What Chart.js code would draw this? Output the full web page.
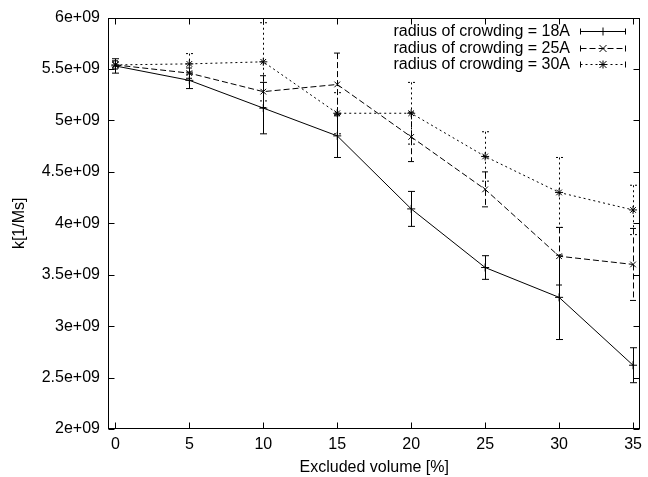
<!DOCTYPE html>
<html>
<head>
<meta charset="utf-8">
<script src="https://cdn.jsdelivr.net/npm/chart.js@4/dist/chart.umd.min.js"></script>
<style>
  body { margin: 0; background: #fff; }
  #c { display: block; }
</style>
</head>
<body>
<canvas id="c" width="648" height="477"></canvas>
<script>
// Excluded volume [%] on x, rate constant on y
const volumes = [0, 5, 10, 15, 20, 25, 30, 35];
const seriesNames = ["radius of crowding = 18A", "radius of crowding = 25A", "radius of crowding = 30A"];

const k18 = [5.53e9, 5.39e9, 5.12e9, 4.85e9, 4.14e9, 3.57e9, 3.28e9, 2.62e9];
const err18 = [0.07e9, 0.08e9, 0.25e9, 0.21e9, 0.17e9, 0.115e9, 0.41e9, 0.17e9];
const k25 = [5.54e9, 5.46e9, 5.28e9, 5.35e9, 4.84e9, 4.33e9, 3.68e9, 3.60e9];
const err25 = [0.04e9, 0.05e9, 0.155e9, 0.305e9, 0.24e9, 0.17e9, 0.28e9, 0.35e9];
const k30 = [5.54e9, 5.55e9, 5.57e9, 5.07e9, 5.07e9, 4.65e9, 4.30e9, 4.13e9];
const err30 = [0.03e9, 0.10e9, 0.38e9, 0.20e9, 0.30e9, 0.24e9, 0.34e9, 0.24e9];

const xTicks = [0, 5, 10, 15, 20, 25, 30, 35];
const yTicks = [2e9, 2.5e9, 3e9, 3.5e9, 4e9, 4.5e9, 5e9, 5.5e9, 6e9];

const FONT = "'Liberation Sans', Arial, sans-serif";
const dashes = [[], [6, 3], [2, 3]];
const markers = ["cross", "crossRot", "star"];
const errs = [err18, err25, err30];

function pts(ys) {
  return volumes.map((x, i) => ({ x: x, y: ys[i] }));
}

// gnuplot-like box, inward ticks, error bars and legend
const gnuplotLook = {
  id: "gnuplotLook",
  afterDatasetsDraw(chart) {
    const ctx = chart.ctx;
    const xs = chart.scales.x, ys = chart.scales.y;
    ctx.save();
    ctx.strokeStyle = "#000";
    ctx.lineWidth = 1;
    chart.data.datasets.forEach((ds, i) => {
      ctx.setLineDash(dashes[i]);
      ds.data.forEach((p, j) => {
        const px = Math.round(xs.getPixelForValue(p.x)) + 0.5;
        const top = ys.getPixelForValue(p.y + errs[i][j]);
        const bot = ys.getPixelForValue(p.y - errs[i][j]);
        ctx.beginPath();
        ctx.moveTo(px, top);
        ctx.lineTo(px, bot);
        ctx.moveTo(px - 3.5, top);
        ctx.lineTo(px + 3.5, top);
        ctx.moveTo(px - 3.5, bot);
        ctx.lineTo(px + 3.5, bot);
        ctx.stroke();
      });
    });
    ctx.restore();
  },
  afterDraw(chart) {
    const ctx = chart.ctx;
    const a = chart.chartArea;
    const xs = chart.scales.x, ys = chart.scales.y;
    ctx.save();
    ctx.strokeStyle = "#000";
    ctx.lineWidth = 1;
    ctx.setLineDash([]);
    const L = Math.round(a.left) + 0.5, R = Math.round(a.right) - 0.5;
    const T = Math.round(a.top) + 0.5, B = Math.round(a.bottom) - 0.5;
    ctx.strokeRect(L, T, R - L, B - T);
    ctx.beginPath();
    xTicks.forEach(v => {
      const px = Math.round(xs.getPixelForValue(v)) + 0.5;
      ctx.moveTo(px, B); ctx.lineTo(px, B - 6);
      ctx.moveTo(px, T); ctx.lineTo(px, T + 6);
    });
    yTicks.forEach(v => {
      const py = Math.round(ys.getPixelForValue(v)) + 0.5;
      ctx.moveTo(L, py); ctx.lineTo(L + 6, py);
      ctx.moveTo(R, py); ctx.lineTo(R - 6, py);
    });
    ctx.stroke();

    // legend: text right-aligned, sample on the right
    ctx.font = "16px " + FONT;
    ctx.fillStyle = "#000";
    ctx.textAlign = "right";
    ctx.textBaseline = "middle";
    const x0 = 580.5, x1 = 625.5;
    seriesNames.forEach((name, i) => {
      const y = Math.round(31 + i * 16.5) + 0.5;
      ctx.fillText(name, 570, y);
      ctx.setLineDash(dashes[i]);
      ctx.beginPath();
      ctx.moveTo(x0, y); ctx.lineTo(x1, y);
      ctx.stroke();
      ctx.setLineDash([]);
      ctx.beginPath();
      ctx.moveTo(x0, y - 3); ctx.lineTo(x0, y + 3);
      ctx.moveTo(x1, y - 3); ctx.lineTo(x1, y + 3);
      ctx.stroke();
      const mx = (x0 + x1) / 2;
      ctx.beginPath();
      if (i === 0) {
        ctx.moveTo(mx, y - 4); ctx.lineTo(mx, y + 4);
      } else {
        ctx.moveTo(mx - 3.5, y - 3.5); ctx.lineTo(mx + 3.5, y + 3.5);
        ctx.moveTo(mx - 3.5, y + 3.5); ctx.lineTo(mx + 3.5, y - 3.5);
        if (i === 2) {
          ctx.moveTo(mx - 4, y); ctx.lineTo(mx + 4, y);
          ctx.moveTo(mx, y - 4); ctx.lineTo(mx, y + 4);
        }
      }
      ctx.stroke();
    });
    ctx.restore();
  }
};

new Chart(document.getElementById("c"), {
  type: "line",
  data: {
    datasets: [k18, k25, k30].map((ys, i) => ({
      label: seriesNames[i],
      data: pts(ys),
      borderColor: "#000",
      backgroundColor: "#000",
      borderWidth: 1,
      borderDash: dashes[i],
      pointStyle: markers[i],
      pointRadius: 4,
      pointBorderWidth: 1,
      pointBorderColor: "#000",
      tension: 0,
      fill: false
    }))
  },
  options: {
    responsive: false,
    animation: false,
    devicePixelRatio: 1,
    layout: { padding: { top: 16, right: 4, left: 0, bottom: 0 } },
    plugins: { legend: { display: false }, tooltip: { enabled: false } },
    scales: {
      x: {
        type: "linear",
        min: -0.5,
        max: 35.5,
        afterBuildTicks: s => { s.ticks = xTicks.map(v => ({ value: v })); },
        afterFit: s => { s.height = 48; },
        grid: { display: false, drawTicks: false },
        border: { display: false },
        ticks: { color: "#000", font: { family: FONT, size: 16 }, padding: 6, maxRotation: 0, autoSkip: false },
        title: { display: true, text: "Excluded volume [%]", color: "#000", font: { family: FONT, size: 16 }, padding: { top: 2, bottom: 0 } }
      },
      y: {
        type: "linear",
        min: 2e9,
        max: 6e9,
        afterBuildTicks: s => { s.ticks = yTicks.map(v => ({ value: v })); },
        afterFit: s => { s.width = 108; },
        grid: { display: false, drawTicks: false },
        border: { display: false },
        ticks: {
          color: "#000",
          font: { family: FONT, size: 16 },
          padding: 8,
          callback: v => (v / 1e9) + "e+09"
        },
        title: { display: true, text: "k[1/Ms]", color: "#000", font: { family: FONT, size: 16 }, padding: { top: 10, bottom: 0 } }
      }
    }
  },
  plugins: [gnuplotLook]
});
</script>
</body>
</html>
